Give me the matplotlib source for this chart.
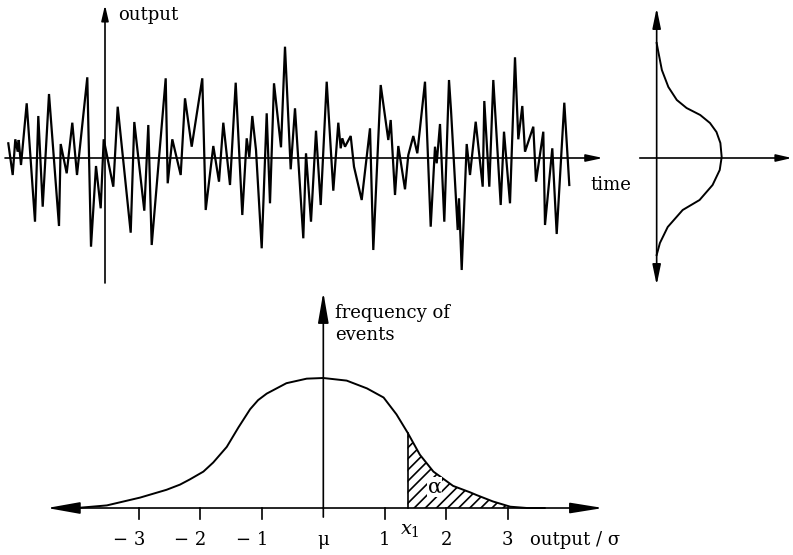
import matplotlib
matplotlib.use('Agg')
import matplotlib.pyplot as plt
import numpy as np

plt.rcParams['font.family'] = 'DejaVu Serif'
plt.rcParams['mathtext.fontset'] = 'dejavuserif'
plt.rcParams['hatch.linewidth'] = 1.2

# noisy output signal (time, output)
sig_t = [-96.7, -92.3, -89.7, -87.3, -86.3, -84, -78.3, -70, -66.7, -62.3, -56, -46, -44.3,
         -38.3, -32.7, -28, -17.7, -14, -9, -4.3, -1.3, 8.3, 12.7, 25.7, 29.3, 39.3, 43.3, 46.7,
         60.7, 62.7, 67.3, 75.7, 80, 86.7, 97.3, 100.7, 108.3, 114, 118.3, 125, 130.7, 137.3,
         141.7, 144.3, 147.3, 151, 156.7, 161.7, 165, 169, 176, 180, 185.7, 190, 198.3, 201,
         206, 211, 215.7, 221.7, 228.3, 233.3, 235.7, 237.3, 240, 245.7, 249, 256.7, 265, 268.3,
         275.7, 283.3, 285.7, 290, 293.3, 300, 303.3, 308.3, 312.3, 320, 325.7, 330, 331.7, 335,
         339.3, 344, 346, 352.7, 354, 356.7, 361.7, 365, 370.7, 377.7, 379.3, 384.3, 388.3,
         395.7, 399, 405, 410, 413.3, 417.3, 420, 428.3, 431, 438.3, 440, 447.3, 451.7, 459.3,
         464.3]
sig_y = [14.7, -17, 18.7, 6.3, 18, -7, 54.7, -63.7, 42, -48.7, 64, -68, 14,
         -15.3, 35.3, -17, 80.7, -88.7, -8, -50.3, 18.7, -28.7, 51.3, -74.7, 36, -52.7, 33, -87,
         79.7, -25.3, 18.7, -17, 59.7, 11.3, 79.7, -52, 12, -23.7, 35.3, -27, 75.3, -57,
         19.7, 1, 42, 8, -90.3, 44.7, -45.3, 74.7, 10.7, 111.3, -11.3, 49.7, -80.3, 4.7,
         -63.7, 27.3, -47, 76.3, -32.7, 35.3, 9.7, 19.7, 11.3, 22, -8.7, -42, 29.7, -92,
         73, 18, 38, -37, 12, -31.3, 3, 22, 4.7, 76.3, -68.7, 11.3, -5.3, 34,
         -63.7, 78, 48, -72, -40.3, -112, 14, -17, 36.3, -28.7, 57, -28.7, 78,
         -47, 26.3, -45.3, 100.7, 18.7, 52, 6.3, 31.3, -23.7, 26.3, -67, 9.7, -76, 55.3,
         -27]

# sideways distribution of the output (output level, relative frequency)
side_y = [115, 108, 88, 71, 58, 50, 43, 35, 26, 15, 1, -12, -27, -42, -52, -69, -85, -97]
side_f = [0.0, 0.02, 0.08, 0.18, 0.31, 0.46, 0.67, 0.82, 0.92, 0.98, 1.0, 0.97, 0.86, 0.66,
          0.40, 0.17, 0.05, 0.0]

# frequency of events vs output / sigma
bell_x = [-4.3, -4.01, -3.52, -2.98, -2.55, -2.33, -2.17, -1.95, -1.79, -1.57, -1.38, -1.19,
          -1.06, -0.92, -0.76, -0.60, -0.27, 0.0, 0.38, 0.71, 0.98, 1.19, 1.37, 1.57, 1.79,
          2.11, 2.39, 2.49, 2.76, 3.04, 3.31, 3.6]
bell_f = [0.0, 0.0, 0.02, 0.08, 0.14, 0.18, 0.22, 0.28, 0.35, 0.47, 0.62, 0.76,
          0.83, 0.88, 0.92, 0.96, 0.995, 1.0, 0.98, 0.92, 0.85, 0.72, 0.58, 0.41, 0.28,
          0.17, 0.12, 0.10, 0.05, 0.01, 0.0, 0.0]
x1 = 1.37
tick_vals = [-3, -2, -1, 0, 1, 2, 3]
tick_text = ['\u2212 3', '\u2212 2', '\u2212 1', '\u03bc', '1', '2', '3']

fig = plt.figure(figsize=(7.93, 5.55), dpi=100)


def arrow(ax, start, end, head_px, half_px, lw=1.2, style='-|>'):
    ax.annotate('', xy=end, xytext=start,
                arrowprops=dict(arrowstyle=f'{style},head_length={head_px * 0.72},'
                                           f'head_width={half_px * 0.72}',
                                mutation_scale=1, lw=lw, color='black',
                                shrinkA=0, shrinkB=0))


# top: signal against time
ax1 = fig.add_axes([0, 0, 1, 1])
ax1.set_xlim(-105, 688)
ax1.set_ylim(-397, 158)
ax1.axis('off')
ax1.plot(sig_t, sig_y, color='black', lw=1.6, solid_joinstyle='miter')
arrow(ax1, (-100, 0), (498, 0), 14, 3)
arrow(ax1, (0, -125), (0, 153), 13, 3)
ax1.text(13, 143, 'output', fontsize=13, ha='left', va='center')
ax1.text(485, -27, 'time', fontsize=13, ha='left', va='center')

# top right: distribution of the output
ax2 = fig.add_axes([0, 0, 1, 1])
ax2.set_xlim(-10.10, 2.097)
ax2.set_ylim(-397, 158)
ax2.axis('off')
ax2.plot(side_f, side_y, color='black', lw=1.4)
arrow(ax2, (-0.26, 0), (2.08, 0), 13, 3)
arrow(ax2, (0, -127), (0, 150), 17, 3.5, style='<|-|>')

# bottom: frequency of events
ax3 = fig.add_axes([0, 0, 1, 1])
ax3.set_xlim(-5.257, 7.637)
ax3.set_ylim(-0.3615, 3.9077)
ax3.axis('off')
ax3.plot(bell_x, bell_f, color='black', lw=1.4)
tail = [i for i, v in enumerate(bell_x) if v >= x1]
ax3.fill_between([bell_x[i] for i in tail], 0, [bell_f[i] for i in tail],
                 facecolor='none', edgecolor='black', hatch='///', lw=0)
ax3.plot([x1, x1], [0, bell_f[bell_x.index(x1)]], color='black', lw=1.2)
arrow(ax3, (0, 0), (-4.49, 0), 28, 5, lw=1.2)
arrow(ax3, (0, 0), (4.55, 0), 28, 4.5, lw=1.2)
arrow(ax3, (0, -0.07), (0, 1.66), 26, 4.5, lw=1.2)
for v, s in zip(tick_vals, tick_text):
    if v != 0:
        ax3.plot([v, v], [0, -0.085], color='black', lw=1.2)
    if v < 0:
        ax3.text(v + 0.1, -0.246, s, fontsize=13, ha='right', va='center')
    else:
        ax3.text(v, -0.246, s, fontsize=13, ha='center', va='center')
ax3.text(x1 + 0.03, -0.17, r'$x_1$', fontsize=14, ha='center', va='center')
ax3.text(3.36, -0.246, 'output / \u03c3', fontsize=13, ha='left', va='center')
ax3.text(0.19, 1.415, 'frequency of\nevents', fontsize=13, ha='left', va='center',
         linespacing=1.3)
ax3.text(1.81, 0.16, '\u03b1', fontsize=15, ha='center', va='center',
         bbox=dict(facecolor='white', edgecolor='none', pad=0.5))

plt.savefig('out.png', dpi=100)
